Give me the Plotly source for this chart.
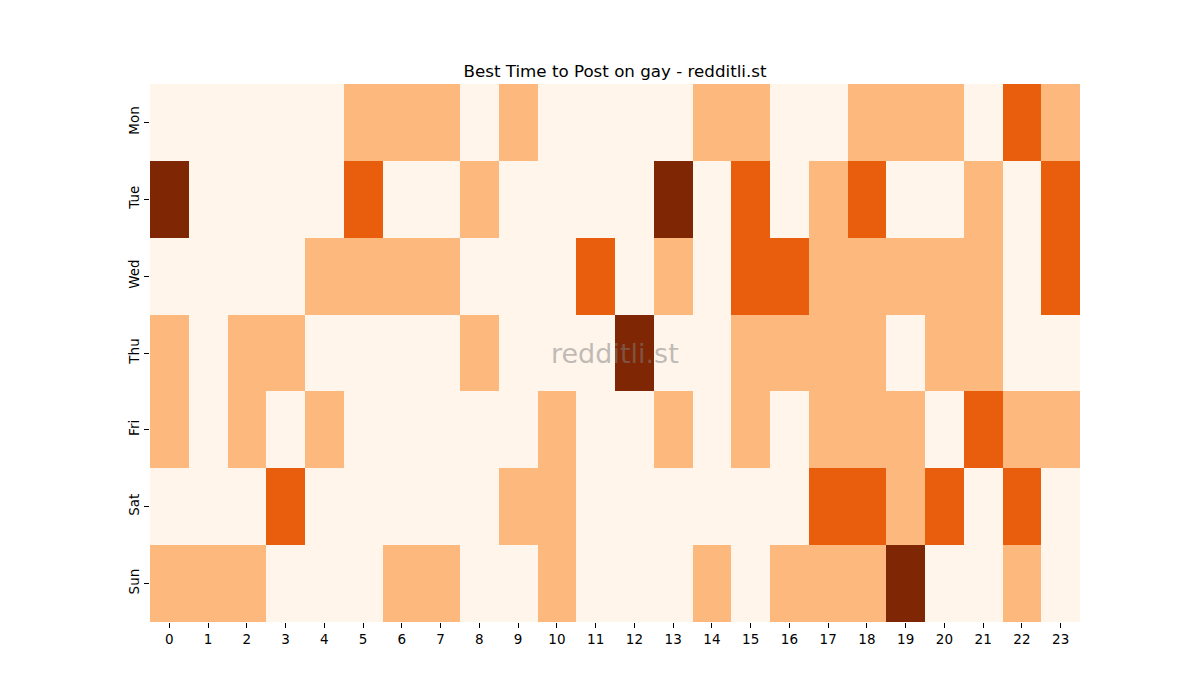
import plotly.graph_objects as go

days = ["Mon", "Tue", "Wed", "Thu", "Fri", "Sat", "Sun"]
hours = list(range(24))

# activity level per day/hour (0-3)
mon = [0, 0, 0, 0, 0, 1, 1, 1, 0, 1, 0, 0, 0, 0, 1, 1, 0, 0, 1, 1, 1, 0, 2, 1]
tue = [3, 0, 0, 0, 0, 2, 0, 0, 1, 0, 0, 0, 0, 3, 0, 2, 0, 1, 2, 0, 0, 1, 0, 2]
wed = [0, 0, 0, 0, 1, 1, 1, 1, 0, 0, 0, 2, 0, 1, 0, 2, 2, 1, 1, 1, 1, 1, 0, 2]
thu = [1, 0, 1, 1, 0, 0, 0, 0, 1, 0, 0, 0, 3, 0, 0, 1, 1, 1, 1, 0, 1, 1, 0, 0]
fri = [1, 0, 1, 0, 1, 0, 0, 0, 0, 0, 1, 0, 0, 1, 0, 1, 0, 1, 1, 1, 0, 2, 1, 1]
sat = [0, 0, 0, 2, 0, 0, 0, 0, 0, 1, 1, 0, 0, 0, 0, 0, 0, 2, 2, 1, 2, 0, 2, 0]
sun = [1, 1, 1, 0, 0, 0, 1, 1, 0, 0, 1, 0, 0, 0, 1, 0, 1, 1, 1, 3, 0, 0, 1, 0]

z = [mon, tue, wed, thu, fri, sat, sun]

c0, c1, c2, c3 = "#fff5eb", "#fdb97d", "#e95e0d", "#7f2704"
scale = [[0, c0], [0.25, c0], [0.25, c1], [0.5, c1],
         [0.5, c2], [0.75, c2], [0.75, c3], [1, c3]]

fig = go.Figure()

fig.add_trace(go.Heatmap(
    z=z,
    x=hours,
    y=days,
    colorscale=scale,
    zmin=-0.5,
    zmax=3.5,
    showscale=False,
    xgap=0,
    ygap=0
))

# watermark
fig.add_annotation(
    text="redditli.st",
    x=0.5, y=0.5, xref="paper", yref="paper",
    showarrow=False,
    font=dict(size=27, color="rgba(128,128,128,0.5)", family="DejaVu Sans")
)

fig.update_layout(
    width=1200,
    height=700,
    margin=dict(l=142, r=128, t=76, b=86),
    paper_bgcolor="white",
    plot_bgcolor="white",
    font=dict(family="DejaVu Sans", size=13.5, color="black"),
    title=dict(text="Best Time to Post on gay - redditli.st",
               x=0.5, xref="paper", xanchor="center",
               y=1, yref="paper", yanchor="bottom", pad=dict(b=7),
               font=dict(size=16.7, color="black")),
    xaxis=dict(tickmode="array", tickvals=hours, ticktext=[str(h) for h in hours],
               ticks="outside", ticklen=5, tickcolor="black",
               showgrid=False, zeroline=False, showline=False),
    yaxis=dict(autorange="reversed", tickangle=-90,
               ticks="outside", ticklen=5, tickcolor="black",
               showgrid=False, zeroline=False, showline=False),
)

fig.write_html("out.html")
